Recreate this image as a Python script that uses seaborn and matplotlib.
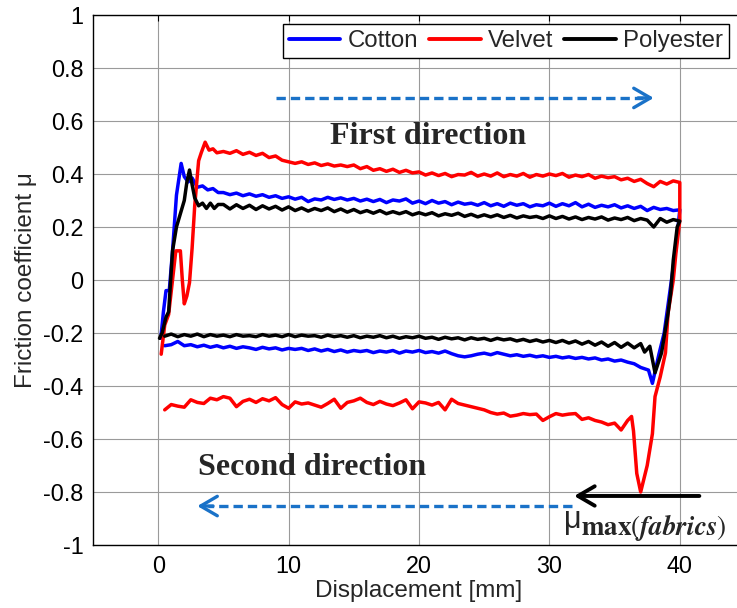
import numpy as np
import pandas as pd
import seaborn as sns
import matplotlib as mpl
import matplotlib.pyplot as plt
mpl.use('Agg')

fabrics = ['Cotton', 'Velvet', 'Polyester']
my_pal = {'Cotton': '#0000ff', 'Velvet': '#ff0000', 'Polyester': '#000000'}
arrow_blue = '#1a72c8'

#----------------------------------------------------------
# forward stroke (0 -> 40 mm): start-up transient, then the sliding plateau
plateau_fwd_x = np.arange(5.0, 40.01, 0.5)
plateau_rev_x = np.arange(0.5, 36.01, 0.5)

cotton_fwd_x  = [0.2, 0.4, 0.6, 0.85, 1.1, 1.4, 1.76, 2.0, 2.3, 2.6, 3.0, 3.4, 3.8, 4.2, 4.6]
cotton_fwd_mu = [-0.22, -0.12, -0.04, -0.04, 0.11, 0.32, 0.44, 0.39, 0.37, 0.385, 0.35, 0.355, 0.34, 0.345, 0.33]
cotton_fwd_plateau = [0.330, 0.322, 0.328, 0.318, 0.325, 0.316, 0.322, 0.312, 0.318, 0.308,
                      0.314, 0.305, 0.312, 0.296, 0.306, 0.302, 0.312, 0.304, 0.310, 0.302,
                      0.308, 0.298, 0.305, 0.296, 0.304, 0.292, 0.302, 0.298, 0.306, 0.290,
                      0.298, 0.288, 0.300, 0.290, 0.296, 0.284, 0.294, 0.286, 0.290, 0.282,
                      0.292, 0.280, 0.288, 0.278, 0.290, 0.282, 0.288, 0.276, 0.284, 0.280,
                      0.290, 0.278, 0.288, 0.280, 0.292, 0.276, 0.286, 0.274, 0.282, 0.276,
                      0.284, 0.272, 0.280, 0.270, 0.278, 0.262, 0.274, 0.266, 0.270, 0.262,
                      0.265]

velvet_fwd_x  = [0.23, 0.5, 0.8, 1.1, 1.35, 1.7, 1.85, 2.0, 2.2, 2.4, 2.6, 2.8, 3.1, 3.3, 3.6, 3.9, 4.2, 4.5]
velvet_fwd_mu = [-0.28, -0.17, -0.13, 0.0, 0.11, 0.11, 0.0, -0.09, -0.06, -0.01, 0.12, 0.28, 0.45, 0.48, 0.52, 0.49, 0.495, 0.48]
velvet_fwd_plateau = [0.485, 0.478, 0.488, 0.474, 0.482, 0.470, 0.478, 0.462, 0.468, 0.452,
                      0.446, 0.440, 0.446, 0.436, 0.442, 0.432, 0.438, 0.430, 0.434, 0.428,
                      0.434, 0.420, 0.428, 0.414, 0.420, 0.410, 0.418, 0.406, 0.414, 0.404,
                      0.408, 0.396, 0.404, 0.394, 0.402, 0.390, 0.398, 0.396, 0.406, 0.392,
                      0.400, 0.392, 0.404, 0.390, 0.398, 0.392, 0.402, 0.388, 0.398, 0.392,
                      0.400, 0.394, 0.402, 0.388, 0.396, 0.390, 0.398, 0.384, 0.392, 0.386,
                      0.390, 0.378, 0.384, 0.372, 0.380, 0.364, 0.352, 0.372, 0.362, 0.374,
                      0.368]

poly_fwd_x  = [0.1, 0.3, 0.6, 0.8, 1.1, 1.4, 1.76, 2.0, 2.2, 2.4, 2.6, 2.8, 3.1, 3.4, 3.7, 4.0, 4.3, 4.6]
poly_fwd_mu = [-0.22, -0.20, -0.14, -0.12, 0.11, 0.20, 0.26, 0.30, 0.37, 0.415, 0.36, 0.31, 0.28, 0.29, 0.27, 0.29, 0.27, 0.285]
poly_fwd_plateau = [0.285, 0.268, 0.284, 0.270, 0.282, 0.266, 0.280, 0.268, 0.278, 0.264,
                    0.276, 0.262, 0.272, 0.260, 0.270, 0.262, 0.272, 0.258, 0.268, 0.256,
                    0.266, 0.254, 0.262, 0.252, 0.262, 0.250, 0.258, 0.250, 0.258, 0.246,
                    0.254, 0.246, 0.254, 0.242, 0.250, 0.244, 0.252, 0.240, 0.248, 0.238,
                    0.246, 0.238, 0.246, 0.236, 0.244, 0.234, 0.242, 0.236, 0.240, 0.232,
                    0.242, 0.232, 0.240, 0.230, 0.238, 0.228, 0.236, 0.230, 0.238, 0.226,
                    0.234, 0.228, 0.236, 0.224, 0.232, 0.226, 0.200, 0.232, 0.218, 0.228,
                    0.222]

# return stroke (40 -> 0 mm): reversal transient, then plateau (listed with ascending x)
cotton_rev_x  = [40.0, 39.7, 39.25, 38.8, 38.4, 37.9, 37.6, 37.0, 36.5]
cotton_rev_mu = [0.265, 0.12, -0.04, -0.20, -0.28, -0.39, -0.34, -0.33, -0.316]
cotton_rev_plateau = [-0.248, -0.244, -0.232, -0.248, -0.244, -0.252, -0.246, -0.254, -0.248, -0.256,
                      -0.250, -0.258, -0.252, -0.256, -0.262, -0.254, -0.260, -0.256, -0.264, -0.258,
                      -0.262, -0.258, -0.266, -0.260, -0.268, -0.262, -0.270, -0.264, -0.272, -0.266,
                      -0.270, -0.266, -0.274, -0.268, -0.272, -0.266, -0.276, -0.268, -0.272, -0.266,
                      -0.274, -0.270, -0.276, -0.268, -0.278, -0.286, -0.290, -0.286, -0.280, -0.276,
                      -0.282, -0.274, -0.280, -0.286, -0.282, -0.288, -0.284, -0.290, -0.286, -0.292,
                      -0.288, -0.294, -0.290, -0.296, -0.292, -0.298, -0.294, -0.302, -0.298, -0.306,
                      -0.302, -0.310]

velvet_rev_x  = [40.0, 39.7, 39.5, 39.1, 38.9, 38.5, 38.1, 37.9, 37.5, 37.0, 36.7, 36.45, 36.3]
velvet_rev_mu = [0.225, 0.10, 0.0, -0.125, -0.275, -0.365, -0.44, -0.58, -0.70, -0.80, -0.73, -0.57, -0.515]
velvet_rev_plateau = [-0.490, -0.470, -0.476, -0.480, -0.452, -0.462, -0.466, -0.446, -0.452, -0.440,
                      -0.446, -0.478, -0.458, -0.450, -0.462, -0.448, -0.456, -0.444, -0.470, -0.484,
                      -0.460, -0.468, -0.464, -0.472, -0.480, -0.466, -0.450, -0.484, -0.462, -0.456,
                      -0.446, -0.462, -0.470, -0.458, -0.468, -0.474, -0.464, -0.452, -0.486, -0.460,
                      -0.464, -0.472, -0.462, -0.490, -0.450, -0.466, -0.472, -0.478, -0.484, -0.490,
                      -0.500, -0.506, -0.502, -0.514, -0.510, -0.504, -0.508, -0.506, -0.530, -0.516,
                      -0.504, -0.510, -0.506, -0.504, -0.526, -0.520, -0.530, -0.536, -0.546, -0.540,
                      -0.566, -0.530]

poly_rev_x  = [40.0, 39.8, 39.5, 39.3, 39.1, 38.6, 38.1, 37.9, 37.7, 37.3, 37.0, 36.5]
poly_rev_mu = [0.222, 0.20, 0.075, -0.05, -0.125, -0.275, -0.35, -0.30, -0.25, -0.272, -0.24, -0.256]
poly_rev_plateau = [-0.212, -0.204, -0.214, -0.206, -0.212, -0.204, -0.214, -0.206, -0.212, -0.208,
                    -0.214, -0.206, -0.212, -0.210, -0.214, -0.206, -0.212, -0.208, -0.214, -0.206,
                    -0.214, -0.208, -0.212, -0.210, -0.216, -0.208, -0.214, -0.210, -0.216, -0.210,
                    -0.218, -0.212, -0.216, -0.210, -0.218, -0.212, -0.220, -0.214, -0.218, -0.212,
                    -0.220, -0.216, -0.224, -0.216, -0.222, -0.218, -0.226, -0.218, -0.224, -0.220,
                    -0.228, -0.220, -0.226, -0.222, -0.230, -0.224, -0.232, -0.226, -0.234, -0.228,
                    -0.236, -0.228, -0.238, -0.230, -0.242, -0.232, -0.246, -0.234, -0.250, -0.236,
                    -0.254, -0.238]

x_ticks = [0, 10, 20, 30, 40]
y_ticks = [-1, -0.8, -0.6, -0.4, -0.2, 0, 0.2, 0.4, 0.6, 0.8, 1]
y_ticklabels = ['-1', '-0.8', '-0.6', '-0.4', '-0.2', '0', '0.2', '0.4', '0.6', '0.8', '1']

#----------------------------------------------------------
def build_loop(name, fx, fmu, fplat, rx, rmu, rplat):
  x = list(fx) + list(plateau_fwd_x) + list(rx) + list(plateau_rev_x[::-1])
  mu = list(fmu) + list(fplat) + list(rmu) + list(rplat[::-1])
  return pd.DataFrame({'x': x, 'mu': mu, 'fabric': name})

df = pd.concat([
  build_loop('Cotton', cotton_fwd_x, cotton_fwd_mu, cotton_fwd_plateau, cotton_rev_x, cotton_rev_mu, cotton_rev_plateau),
  build_loop('Velvet', velvet_fwd_x, velvet_fwd_mu, velvet_fwd_plateau, velvet_rev_x, velvet_rev_mu, velvet_rev_plateau),
  build_loop('Polyester', poly_fwd_x, poly_fwd_mu, poly_fwd_plateau, poly_rev_x, poly_rev_mu, poly_rev_plateau)],
  ignore_index=True)

sns.set_style('white')
plt.rcParams['font.family'] = ['Liberation Sans', 'DejaVu Sans']
plt.rcParams['mathtext.fontset'] = 'stix'

fig = plt.figure(figsize=(7.37, 6.08), dpi=100)
# axes runs a little past the right edge, like the cropped original
ax = fig.add_axes([93/737, 63/608, 652/737, 530/608])

sns.lineplot(data=df, x='x', y='mu', hue='fabric', hue_order=fabrics, palette=my_pal,
             sort=False, estimator=None, linewidth=2.5, ax=ax)

ax.set_xlim(-5, 45)
ax.set_ylim(-1, 1)
ax.set_xticks(x_ticks)
ax.set_yticks(y_ticks)
ax.set_yticklabels(y_ticklabels)
ax.grid(True, color='#9a9a9a', linewidth=0.8)
ax.tick_params(direction='in', top=True, right=True, length=4, width=0.8,
               labelsize=16.8, colors='black', pad=7)
for sp in ax.spines.values():
  sp.set_color('black')
  sp.set_linewidth(1.0)
ax.set_xlabel('Displacement [mm]', fontsize=17.5, labelpad=2)
ax.set_ylabel('Friction coefficient μ', fontsize=17.5, labelpad=4)

handles, labels = ax.get_legend_handles_labels()
leg = ax.legend(handles, labels, loc='upper left', bbox_to_anchor=(0.291, 0.983), ncol=3,
                fontsize=17.3, frameon=True, fancybox=False, edgecolor='black', framealpha=1,
                handlelength=2.15, handletextpad=0.3, columnspacing=0.45, borderpad=0.25,
                borderaxespad=0)
leg.get_frame().set_linewidth(1.0)
for ln in leg.get_lines():
  ln.set_linewidth(2.8)

# direction arrows
ax.plot([9.0, 37.2], [0.687, 0.687], color=arrow_blue, lw=2.4, dashes=(2.8, 1.5))
ax.annotate('', xy=(38.0, 0.687), xytext=(36.8, 0.687),
            arrowprops=dict(arrowstyle='->,head_length=0.6,head_width=0.35', color=arrow_blue,
                            lw=2.4, mutation_scale=20, shrinkA=0, shrinkB=0))
ax.plot([31.7, 3.8], [-0.853, -0.853], color=arrow_blue, lw=2.4, dashes=(2.8, 1.5))
ax.annotate('', xy=(3.0, -0.853), xytext=(4.2, -0.853),
            arrowprops=dict(arrowstyle='->,head_length=0.6,head_width=0.35', color=arrow_blue,
                            lw=2.4, mutation_scale=20, shrinkA=0, shrinkB=0))
ax.annotate('', xy=(31.9, -0.815), xytext=(41.5, -0.815),
            arrowprops=dict(arrowstyle='->,head_length=0.6,head_width=0.35', color='black',
                            lw=2.8, mutation_scale=20, shrinkA=0, shrinkB=0))

ax.text(20.7, 0.543, 'First direction', family='Liberation Serif', fontweight='bold',
        fontsize=23, ha='center', va='center')
ax.text(11.8, -0.706, 'Second direction', family='Liberation Serif', fontweight='bold',
        fontsize=23, ha='center', va='center')
ax.text(31.1, -0.936, 'μ', fontsize=22, ha='left', va='baseline')
ax.text(32.45, -0.962, r'$\mathbf{max}(\mathbfit{fabrics})$', fontsize=19.5,
        ha='left', va='baseline')

plt.savefig('out.png', dpi=100)
plt.close(fig)
